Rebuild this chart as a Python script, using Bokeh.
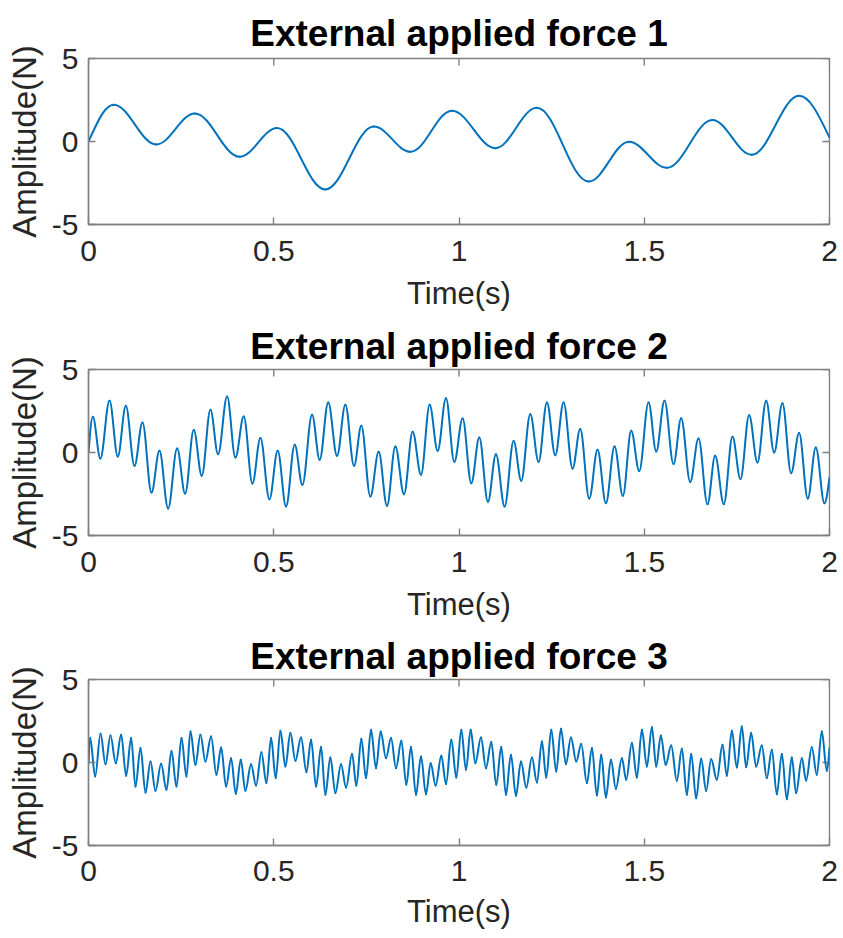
import numpy as np
from bokeh.plotting import figure
from bokeh.layouts import column
from bokeh.models import Range1d, FixedTicker, ColumnDataSource, NumeralTickFormatter
from bokeh.embed import file_html
from bokeh.resources import INLINE

# ---------------- data (successive peaks / troughs) ----------------
titles = ["External applied force 1", "External applied force 2", "External applied force 3"]
x_label = "Time(s)"
y_label = "Amplitude(N)"
x_ticks = [0, 0.5, 1, 1.5, 2]
y_ticks = [-5, 0, 5]

t1 = [0.0, 0.068, 0.183, 0.287, 0.408, 0.509, 0.639, 0.770, 0.869, 0.981, 1.098, 1.210,
      1.350, 1.459, 1.561, 1.684, 1.790, 1.918, 2.0]
v1 = [0.0, 2.21, -0.18, 1.69, -0.92, 0.81, -2.89, 0.90, -0.62, 1.85, -0.40, 2.03,
      -2.41, -0.02, -1.58, 1.29, -0.80, 2.75, 0.24]

t2 = [0.0, 0.0117, 0.032, 0.0567, 0.0791, 0.1007, 0.1241, 0.1457, 0.170, 0.1915, 0.2149,
      0.2392, 0.2608, 0.2841, 0.3057, 0.3291, 0.3498, 0.3741, 0.3965, 0.4190, 0.4424,
      0.464, 0.4883, 0.5107, 0.5332, 0.5566, 0.5773, 0.6034, 0.624, 0.647, 0.6708,
      0.6933, 0.7167, 0.7364, 0.7607, 0.7832, 0.8057, 0.8282, 0.8516, 0.8749, 0.8974,
      0.9208, 0.9424, 0.9649, 0.9873, 1.0098, 1.0332, 1.0548, 1.0781, 1.0997, 1.1231,
      1.1474, 1.168, 1.1923, 1.2148, 1.2373, 1.2598, 1.2823, 1.3065, 1.3272, 1.3515,
      1.374, 1.3965, 1.4198, 1.4423, 1.4648, 1.4864, 1.5116, 1.5323, 1.5547, 1.579,
      1.5997, 1.624, 1.6465, 1.6707, 1.6914, 1.7148, 1.7381, 1.7597, 1.7831, 1.8056,
      1.829, 1.8506, 1.873, 1.8964, 1.918, 1.9414, 1.963, 1.9863, 2.0]
v2 = [0.0, 2.15, -0.36, 3.11, -0.24, 2.81, -0.80, 1.81, -2.41, 0.10, -3.37,
      0.24, -2.47, 1.35, -1.40, 2.57, -0.10, 3.37, -0.30, 2.17, -1.87,
      0.87, -2.81, 0.10, -3.25, 0.46, -1.95, 2.27, -0.44, 3.01, -0.20,
      2.87, -0.80, 1.61, -2.65, 0.04, -3.21, 0.36, -2.51, 1.25, -1.34,
      2.87, 0.10, 3.27, -0.56, 2.05, -1.85, 0.90, -2.97, -0.10, -3.25,
      0.70, -1.70, 2.31, -0.56, 3.01, -0.16, 3.01, -0.96, 1.41, -2.77,
      0.16, -3.05, 0.36, -2.61, 1.31, -1.12, 3.01, 0.06, 3.11, -0.70,
      2.07, -1.77, 0.84, -3.11, -0.20, -3.11, 0.95, -1.60, 2.25, -0.60,
      3.11, 0.0, 2.97, -1.24, 1.17, -2.77, 0.30, -3.05, -1.5]

t3 = [0.0, 0.0045, 0.018, 0.0324, 0.0459, 0.0593, 0.0737, 0.0881, 0.1016, 0.1151, 0.1268,
      0.1403, 0.1538, 0.1673, 0.1807, 0.196, 0.2104, 0.2239, 0.2374, 0.2509, 0.2644,
      0.2752, 0.2886, 0.3021, 0.3156, 0.3309, 0.3453, 0.3579, 0.3714, 0.3849, 0.3975,
      0.4109, 0.4235, 0.4388, 0.4523, 0.4667, 0.4802, 0.4928, 0.5053, 0.518, 0.5314,
      0.5449, 0.5584, 0.5737, 0.5881, 0.6007, 0.6142, 0.6277, 0.6393, 0.6528, 0.6663,
      0.6816, 0.6951, 0.7113, 0.723, 0.7364, 0.749, 0.7625, 0.776, 0.7886, 0.803,
      0.8165, 0.83, 0.8444, 0.8578, 0.8704, 0.8839, 0.8974, 0.9109, 0.9235, 0.937,
      0.9523, 0.9649, 0.9792, 0.9927, 1.0062, 1.0188, 1.0315, 1.044, 1.0593, 1.0728,
      1.0871, 1.1006, 1.1141, 1.1267, 1.1402, 1.1537, 1.1672, 1.1816, 1.1968, 1.2103,
      1.2238, 1.2355, 1.249, 1.2625, 1.2751, 1.2886, 1.3021, 1.3164, 1.3299, 1.3452,
      1.3587, 1.3722, 1.3839, 1.3965, 1.41, 1.4234, 1.4396, 1.4513, 1.4666, 1.4801,
      1.4936, 1.5071, 1.5206, 1.5323, 1.5448, 1.5579, 1.5727, 1.588, 1.6015, 1.615,
      1.6267, 1.6401, 1.6536, 1.6671, 1.6806, 1.6959, 1.7112, 1.7229, 1.7364, 1.7499,
      1.7633, 1.775, 1.7885, 1.802, 1.8173, 1.8308, 1.8443, 1.8578, 1.8713, 1.8848,
      1.8982, 1.9099, 1.9252, 1.9369, 1.9522, 1.9657, 1.9792, 1.9927, 2.0]
v3 = [0.0, 1.47, -0.84, 1.73, -0.10, 1.63, -0.04, 1.67, -0.80, 1.47, -1.45,
      0.87, -1.81, 0.06, -1.70, -0.08, -1.64, 0.70, -1.45, 1.47, -0.84,
      1.87, -0.14, 1.67, 0.06, 1.57, -0.74, 0.90, -1.45, 0.26, -1.89,
      0.16, -1.70, -0.10, -1.39, 0.62, -1.24, 1.47, -0.94, 1.91, -0.24,
      1.77, 0.10, 1.51, -0.58, 1.37, -1.45, 0.93, -1.95, 0.30, -1.84,
      -0.10, -1.51, 0.51, -1.39, 1.43, -0.94, 1.97, -0.34, 1.87, 0.26,
      1.47, -0.34, 1.31, -1.34, 0.93, -1.95, 0.36, -1.91, -0.04, -1.39,
      0.40, -1.30, 1.37, -0.90, 1.97, -0.44, 1.97, -0.04, 1.51, -0.34,
      1.23, -1.34, 0.93, -1.95, 0.46, -2.01, 0.06, -1.51, 0.30, -1.20,
      1.27, -0.90, 1.97, -0.54, 2.03, -0.10, 1.51, 0.06, 1.11, -1.24,
      0.87, -1.99, 0.46, -2.11, 0.16, -1.58, 0.26, -1.04, 1.17, -0.90,
      1.97, -0.24, 2.13, -0.24, 1.63, -0.14, 1.03, -1.10, 0.83, -1.95,
      0.51, -2.15, 0.22, -1.70, 0.20, -1.04, 1.07, -0.80, 1.91, -0.30,
      2.17, -0.28, 1.77, -0.24, 1.03, -0.94, 0.77, -1.91, 0.51, -2.21,
      0.30, -1.84, 0.26, -1.08, 0.92, -0.74, 1.87, -0.50, 0.87]

series = [(t1, v1), (t2, v2), (t3, v3)]

# ---------------- styling ----------------
FONT = "Liberation Sans"
LINE_COLOR = "#0072BD"
AXIS_COLOR = "#808080"
TEXT_COLOR = "#262626"
# per panel: height, top border, bottom border, title standoff, tick-label standoff, axis-label standoff
panels = [(320, 58, 96, 9, 16, 12),
          (311, 49, 96, 5, 16, 12),
          (307, 48, 93, 5, 15, 10)]


def add_curve(p, t, v):
    """Smooth curve through the read extrema (horizontal tangents at the extrema)."""
    t = np.asarray(t, float)
    v = np.asarray(v, float)
    x0, y0, x1, y1 = t[:-1], v[:-1], t[1:], v[1:]
    dt = x1 - x0
    dv = y1 - y0
    cx0 = x0 + 0.363 * dt
    cy0 = y0.copy()
    cx1 = x1 - 0.363 * dt
    cy1 = y1.copy()
    # the end points are not extrema: keep their slope
    cx0[0] = x0[0] + dt[0] / 3.0
    cy0[0] = y0[0] + dv[0] * 0.5
    cx1[-1] = x1[-1] - dt[-1] / 3.0
    cy1[-1] = y1[-1] - dv[-1] * 0.5
    src = ColumnDataSource(dict(x0=x0, y0=y0, x1=x1, y1=y1, cx0=cx0, cy0=cy0, cx1=cx1, cy1=cy1))
    p.bezier(x0="x0", y0="y0", x1="x1", y1="y1", cx0="cx0", cy0="cy0", cx1="cx1", cy1="cy1",
             source=src, line_color=LINE_COLOR, line_width=2, line_cap="round")


def style_axis(ax, ticks, label, label_size):
    ax.ticker = FixedTicker(ticks=ticks)
    ax.formatter = NumeralTickFormatter(format="0.[0]")
    ax.axis_line_color = AXIS_COLOR
    ax.axis_line_width = 1.4
    ax.major_tick_line_color = AXIS_COLOR
    ax.major_tick_line_width = 1.4
    ax.major_tick_in = 7
    ax.major_tick_out = 0
    ax.minor_tick_line_color = None
    ax.major_label_text_font = FONT
    ax.major_label_text_font_size = "30px"
    ax.major_label_text_color = TEXT_COLOR
    ax.axis_label = label
    ax.axis_label_text_font = FONT
    ax.axis_label_text_font_size = label_size
    ax.axis_label_text_font_style = "normal"
    ax.axis_label_text_color = TEXT_COLOR


plots = []
for (t, v), title, (h, top, bottom, t_so, ml_so, al_so) in zip(series, titles, panels):
    p = figure(width=843, height=h, x_range=Range1d(x_ticks[0], x_ticks[-1]),
               y_range=Range1d(y_ticks[0], y_ticks[-1]),
               output_backend="svg", toolbar_location=None,
               min_border_left=88, min_border_right=14, min_border_top=top,
               min_border_bottom=bottom)
    p.grid.visible = False
    p.outline_line_color = AXIS_COLOR
    p.outline_line_width = 1.4
    p.background_fill_color = "white"
    p.border_fill_color = "white"

    xa = p.xaxis[0]
    ya = p.yaxis[0]
    style_axis(xa, x_ticks, x_label, "31px")
    style_axis(ya, y_ticks, y_label, "33px")
    xa.major_label_standoff = ml_so
    xa.axis_label_standoff = al_so
    ya.major_label_standoff = 10
    ya.axis_label_standoff = 6

    # inward ticks on the top and right edges of the box
    p.ray(x=x_ticks, y=[y_ticks[-1]] * len(x_ticks), length=7, length_units="screen",
          angle=-np.pi / 2, line_color=AXIS_COLOR, line_width=1.4)
    p.ray(x=[x_ticks[-1]] * len(y_ticks), y=y_ticks, length=7, length_units="screen",
          angle=np.pi, line_color=AXIS_COLOR, line_width=1.4)

    p.title.text = title
    p.title.text_font = FONT
    p.title.text_font_size = "37px"
    p.title.text_font_style = "bold"
    p.title.text_color = "black"
    p.title.align = "center"
    p.title.standoff = t_so

    add_curve(p, t, v)
    plots.append(p)

layout = column(*plots)
open("out.html", "w").write(file_html(layout, INLINE))
